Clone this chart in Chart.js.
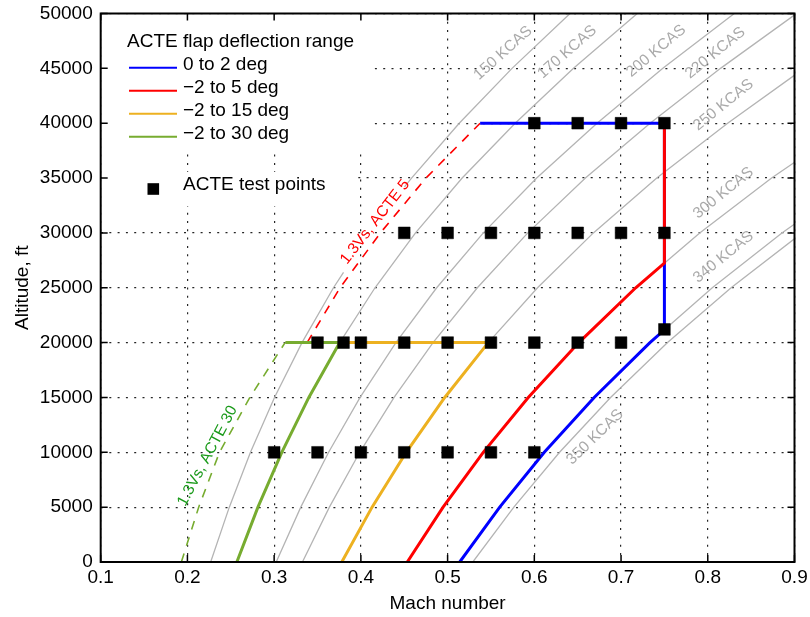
<!DOCTYPE html>
<html>
<head>
<meta charset="utf-8">
<script src="https://cdn.jsdelivr.net/npm/chart.js@4.4.1/dist/chart.umd.min.js"></script>
<style>html,body{margin:0;background:#fff}</style>
</head>
<body>
<canvas id="chart" width="810" height="617"></canvas>
<script>
// altitude stations (ft) used by the constant-KCAS curves
const altSteps = [0, 5000, 10000, 15000, 20000, 25000, 30000, 35000, 40000, 45000, 50000];

// gray constant calibrated airspeed lines, Mach at each altitude station
const alt150 = [0, 5000, 10000, 15000, 20000, 25000, 26400, null, 34200, 35000, 40000, 45000, 50000];
const mach150 = [0.2268, 0.2483, 0.2727, 0.3004, 0.3321, 0.3684, 0.3800, null, 0.4503, 0.4584, 0.5134, 0.5743, 0.6412];
const mach170 = [0.2570, 0.2813, 0.3088, 0.3400, 0.3756, 0.4163, 0.4630, 0.5168, 0.5779, 0.6452, 0.7187];
const mach200 = [0.3024, 0.3307, 0.3628, 0.3991, 0.4404, 0.4874, 0.5412, 0.6027, 0.6723, 0.7482, 0.8306];
const mach220 = [0.3326, 0.3637, 0.3987, 0.4383, 0.4832, 0.5343, 0.5925, 0.6589, 0.7335, 0.8147, 0.9023];
const mach250 = [0.3780, 0.4129, 0.4523, 0.4967, 0.5469, 0.6037, 0.6681, 0.7412, 0.8229, 0.9111];
const mach300 = [0.4535, 0.4948, 0.5411, 0.5930, 0.6513, 0.7169, 0.7907, 0.8736, 0.9654];
const mach340 = [0.5140, 0.5601, 0.6115, 0.6690, 0.7333, 0.8052, 0.8855, 0.9752];
const mach350 = [0.5291, 0.5764, 0.6291, 0.6879, 0.7536, 0.8269, 0.9087];

// ACTE flap deflection range boundaries
const seriesNames = ['0 to 2 deg', '\u22122 to 5 deg', '\u22122 to 15 deg', '\u22122 to 30 deg'];
const blueMach = [0.5140, 0.5601, 0.6115, 0.6690, 0.7333, 0.75, 0.75, 0.5375];
const blueAlt = [0, 5000, 10000, 15000, 20000, 21160, 40000, 40000];
const redMach = [0.4535, 0.4948, 0.5411, 0.5930, 0.6513, 0.7169, 0.75, 0.75];
const redAlt = [0, 5000, 10000, 15000, 20000, 25000, 27240, 40000];
const orangeMach = [0.3780, 0.4129, 0.4523, 0.4967, 0.5469, 0.3756];
const orangeAlt = [0, 5000, 10000, 15000, 20000, 20000];
const greenMach = [0.2570, 0.2813, 0.3088, 0.3400, 0.3756, 0.3130];
const greenAlt = [0, 5000, 10000, 15000, 20000, 20000];

// 1.3Vs limits (dashed)
const vs5Mach = [0.338, 0.376, 0.4225, 0.475, 0.5375];
const vs5Alt = [20000, 25000, 30000, 35000, 40000];
const vs30Mach = [0.193, 0.213, 0.237, 0.272, 0.3126];
const vs30Alt = [0, 5000, 10000, 15000, 20000];

// ACTE test points
const testMach = [0.6, 0.65, 0.7, 0.75,
  0.45, 0.5, 0.55, 0.6, 0.65, 0.7, 0.75,
  0.35, 0.38, 0.4, 0.45, 0.5, 0.55, 0.6, 0.65, 0.7, 0.75,
  0.3, 0.35, 0.4, 0.45, 0.5, 0.55, 0.6];
const testAlt = [40000, 40000, 40000, 40000,
  30000, 30000, 30000, 30000, 30000, 30000, 30000,
  20000, 20000, 20000, 20000, 20000, 20000, 20000, 20000, 20000, 21200,
  10000, 10000, 10000, 10000, 10000, 10000, 10000];

const xTicks = [0.1, 0.2, 0.3, 0.4, 0.5, 0.6, 0.7, 0.8, 0.9];

const FONT = '"Liberation Sans", Arial, Helvetica, sans-serif';
const GRAY = '#b4b4b4';
const BLUE = '#0000ff', RED = '#ff0000', ORANGE = '#edb120', GREEN = '#77ac30';

function pts(xs, ys) {
  return xs.map((x, i) => x === null ? {x: null, y: null} : {x: x, y: ys[i]});
}

function grayLine(mach, alts) {
  return {data: pts(mach, alts || altSteps), borderColor: GRAY, borderWidth: 1.3,
    showLine: true, pointRadius: 0, order: 10, spanGaps: false};
}

function noPad(s) {
  s.paddingTop = 0; s.paddingBottom = 0; s.paddingLeft = 0; s.paddingRight = 0;
}

const notes = [
  {text: '150 KCAS', m: 0.564, h: 46400, a: -42, c: '#aaaaaa'},
  {text: '170 KCAS', m: 0.638, h: 46490, a: -41, c: '#aaaaaa'},
  {text: '200 KCAS', m: 0.7405, h: 46580, a: -40, c: '#aaaaaa'},
  {text: '220 KCAS', m: 0.8087, h: 46400, a: -39, c: '#aaaaaa'},
  {text: '250 KCAS', m: 0.818, h: 41660, a: -39, c: '#aaaaaa'},
  {text: '300 KCAS', m: 0.818, h: 33640, a: -39, c: '#aaaaaa'},
  {text: '340 KCAS', m: 0.818, h: 27800, a: -39, c: '#aaaaaa'},
  {text: '350 KCAS', m: 0.670, h: 11390, a: -44, c: '#aaaaaa'},
  {text: '1.3Vs, ACTE 5', m: 0.4164, h: 31000, a: -52, c: RED},
  {text: '1.3Vs, ACTE 30', m: 0.2232, h: 9660, a: -62, c: '#1a9a1a'}
];

const decor = {
  id: 'decor',
  beforeDatasetsDraw(chart) {
    const ctx = chart.ctx, a = chart.chartArea;
    ctx.save();
    ctx.fillStyle = '#fff';
    ctx.fillRect(a.left + 1, a.top + 1, 271, 138);
    ctx.fillRect(a.left + 1, 172, 254, 34);
    ctx.fillStyle = '#000';
    ctx.font = '19px ' + FONT;
    ctx.textBaseline = 'middle';
    ctx.fillText('ACTE flap deflection range', 127, 41.7);
    const cols = [BLUE, RED, ORANGE, GREEN];
    seriesNames.forEach((name, i) => {
      const y = 67.7 + i * 23;
      ctx.strokeStyle = cols[i];
      ctx.lineWidth = 2;
      ctx.beginPath();
      ctx.moveTo(129, y);
      ctx.lineTo(177, y);
      ctx.stroke();
      ctx.fillText(name, 183, y - 2.5);
    });
    ctx.fillRect(147.5, 183.2, 11.6, 11.6);
    ctx.fillText('ACTE test points', 183, 184.5);
    ctx.restore();
  },
  afterDatasetsDraw(chart) {
    const ctx = chart.ctx, xs = chart.scales.x, ys = chart.scales.y;
    ctx.save();
    ctx.textAlign = 'center';
    ctx.textBaseline = 'middle';
    notes.forEach(n => {
      ctx.save();
      ctx.translate(xs.getPixelForValue(n.m), ys.getPixelForValue(n.h));
      ctx.rotate(n.a * Math.PI / 180);
      ctx.font = '15.5px ' + FONT;
      ctx.fillStyle = n.c;
      ctx.fillText(n.text, 0, 0);
      ctx.restore();
    });
    ctx.restore();
  },
  afterDraw(chart) {
    const ctx = chart.ctx, a = chart.chartArea, xs = chart.scales.x, ys = chart.scales.y;
    ctx.save();
    ctx.strokeStyle = '#000';
    ctx.lineWidth = 1.5;
    ctx.beginPath();
    xs.ticks.forEach(t => {
      const px = xs.getPixelForValue(t.value);
      ctx.moveTo(px, a.bottom); ctx.lineTo(px, a.bottom - 7);
      ctx.moveTo(px, a.top); ctx.lineTo(px, a.top + 7);
    });
    ys.ticks.forEach(t => {
      const py = ys.getPixelForValue(t.value);
      ctx.moveTo(a.left, py); ctx.lineTo(a.left + 7, py);
      ctx.moveTo(a.right, py); ctx.lineTo(a.right - 7, py);
    });
    ctx.stroke();
    ctx.lineWidth = 2;
    ctx.strokeRect(a.left, a.top, a.right - a.left, a.bottom - a.top);
    ctx.restore();
  }
};

new Chart(document.getElementById('chart'), {
  type: 'scatter',
  data: {
    datasets: [
      {data: pts(testMach, testAlt), pointStyle: 'rect', pointRadius: 8.3, pointHoverRadius: 8.3,
        backgroundColor: '#000', borderColor: '#000', borderWidth: 0.5, showLine: false, order: 0},
      {data: pts(redMach, redAlt), borderColor: RED, borderWidth: 3, showLine: true, pointRadius: 0, order: 1},
      {data: pts(blueMach, blueAlt), borderColor: BLUE, borderWidth: 3, showLine: true, pointRadius: 0, order: 2},
      {data: pts(orangeMach, orangeAlt), borderColor: ORANGE, borderWidth: 3, showLine: true, pointRadius: 0, order: 3},
      {data: pts(greenMach, greenAlt), borderColor: GREEN, borderWidth: 3, showLine: true, pointRadius: 0, order: 4},
      {data: pts(vs5Mach, vs5Alt), borderColor: RED, borderWidth: 1.6, borderDash: [9, 8], showLine: true, pointRadius: 0, order: 5},
      {data: pts(vs30Mach, vs30Alt), borderColor: GREEN, borderWidth: 1.6, borderDash: [9, 8], showLine: true, pointRadius: 0, order: 6},
      grayLine(mach150, alt150),
      grayLine(mach170),
      grayLine(mach200),
      grayLine(mach220),
      grayLine(mach250),
      grayLine(mach300),
      grayLine(mach340),
      grayLine(mach350)
    ]
  },
  options: {
    responsive: false,
    animation: false,
    events: [],
    layout: {padding: {left: 0, right: 15.5, top: 13.5, bottom: 0}},
    plugins: {legend: {display: false}, tooltip: {enabled: false}},
    elements: {line: {tension: 0, borderJoinStyle: 'miter'}},
    scales: {
      x: {
        type: 'linear', min: 0.1, max: 0.9,
        afterBuildTicks: s => { s.ticks = xTicks.map(v => ({value: v})); },
        afterFit: s => { s.height = 55; noPad(s); },
        ticks: {callback: v => v.toFixed(1), color: '#000', font: {family: FONT, size: 19}, padding: 4, maxRotation: 0},
        grid: {color: 'rgba(0,0,0,0.85)', lineWidth: 1.2, drawTicks: false},
        border: {display: false, dash: [2, 6.3]},
        title: {display: true, text: 'Mach number', color: '#000', font: {family: FONT, size: 19}, padding: {top: 0, bottom: 2}}
      },
      y: {
        type: 'linear', min: 0, max: 50000,
        afterFit: s => { s.width = 100.7; noPad(s); },
        ticks: {stepSize: 5000, callback: v => String(v), color: '#000', font: {family: FONT, size: 19}, padding: 8},
        grid: {color: 'rgba(0,0,0,0.85)', lineWidth: 1.2, drawTicks: false},
        border: {display: false, dash: [2, 6.3]},
        title: {display: true, text: 'Altitude, ft', color: '#000', font: {family: FONT, size: 19}, padding: {top: 11, bottom: 0}}
      }
    }
  },
  plugins: [decor]
});
</script>
</body>
</html>
